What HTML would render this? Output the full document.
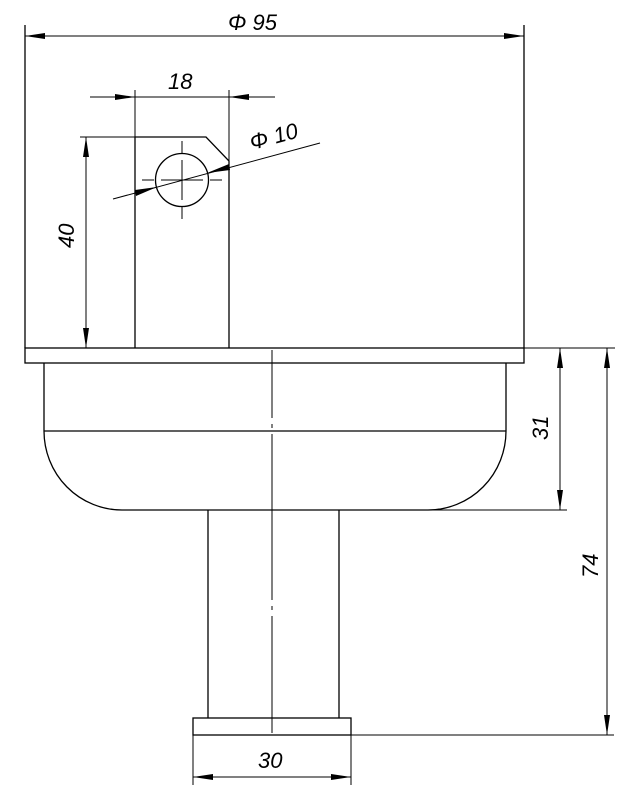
<!DOCTYPE html>
<html><head><meta charset="utf-8"><style>
html,body{margin:0;padding:0;background:#fff;}
svg{display:block;}
text{font-family:"Liberation Sans",sans-serif;font-style:italic;font-size:22px;fill:#000;}
</style></head><body>
<svg width="620" height="800" viewBox="0 0 620 800" xmlns="http://www.w3.org/2000/svg">
<g stroke="#000" stroke-width="1.3" fill="none">
<line x1="25" y1="25" x2="25" y2="348"/>
<line x1="524" y1="25" x2="524" y2="348"/>
<rect x="25" y="348" width="499" height="15"/>
<path d="M44 363 V431 A78 79 0 0 0 122 510 H428 A78 79 0 0 0 506 431 V363"/>
<line x1="44" y1="431" x2="506" y2="431"/>
<line x1="208" y1="510" x2="208" y2="718"/>
<line x1="339" y1="510" x2="339" y2="718"/>
<rect x="193" y="718" width="158" height="17"/>
<path d="M135 348 V137 H206 L229 161 V348"/>
<circle cx="182" cy="180" r="26.5"/>
<line x1="182" y1="141" x2="182" y2="153" stroke-width="1"/>
<line x1="182" y1="160" x2="182" y2="200" stroke-width="1"/>
<line x1="182" y1="207" x2="182" y2="219" stroke-width="1"/>
<line x1="142" y1="180" x2="154" y2="180" stroke-width="1"/>
<line x1="161" y1="180" x2="203" y2="180" stroke-width="1"/>
<line x1="210" y1="180" x2="222" y2="180" stroke-width="1"/>
<line x1="113" y1="199" x2="320" y2="143" stroke-width="1"/>
<path d="M272 350 V418 M272 424 V428 M272 434 V600 M272 606 V610 M272 616 V733" stroke-width="1"/>
<line x1="25" y1="36" x2="524" y2="36" stroke-width="1"/>
<line x1="90" y1="97" x2="275" y2="97" stroke-width="1"/>
<line x1="135" y1="90" x2="135" y2="137" stroke-width="1"/>
<line x1="229" y1="90" x2="229" y2="161" stroke-width="1"/>
<line x1="86" y1="137" x2="86" y2="348" stroke-width="1"/>
<line x1="80" y1="137" x2="135" y2="137" stroke-width="1"/>
<line x1="524" y1="348" x2="615" y2="348" stroke-width="1"/>
<line x1="428" y1="510" x2="567" y2="510" stroke-width="1"/>
<line x1="560" y1="348" x2="560" y2="510" stroke-width="1"/>
<line x1="607" y1="348" x2="607" y2="735" stroke-width="1"/>
<line x1="351" y1="735" x2="614" y2="735" stroke-width="1"/>
<line x1="193" y1="735" x2="193" y2="785" stroke-width="1"/>
<line x1="351" y1="735" x2="351" y2="785" stroke-width="1"/>
<line x1="193" y1="777" x2="351" y2="777" stroke-width="1"/>
</g>
<g fill="#000">
<path d="M25 36 L45 33 L45 39Z"/><path d="M524 36 L504 33 L504 39Z"/>
<path d="M135 97 L115 94 L115 100Z"/><path d="M229 97 L249 94 L249 100Z"/>
<path d="M86 137 L83 157 L89 157Z"/><path d="M86 348 L83 328 L89 328Z"/>
<path d="M157 187 L135 190 L136 196Z"/><path d="M207 173 L229 164 L230 170Z"/>
<path d="M560 348 L557 368 L563 368Z"/><path d="M560 510 L557 490 L563 490Z"/>
<path d="M607 348 L604 368 L610 368Z"/><path d="M607 735 L604 715 L610 715Z"/>
<path d="M193 777 L213 774 L213 780Z"/><path d="M351 777 L331 774 L331 780Z"/>
</g>
<text x="228" y="30">Φ 95</text>
<text x="168" y="89">18</text>
<text x="252" y="150" transform="rotate(-15 252 150)">Φ 10</text>
<text x="0" y="0" transform="translate(74 248) rotate(-90)">40</text>
<text x="0" y="0" transform="translate(548 440) rotate(-90)">31</text>
<text x="0" y="0" transform="translate(598 578) rotate(-90)">74</text>
<text x="258" y="768">30</text>
</svg>
</body></html>
